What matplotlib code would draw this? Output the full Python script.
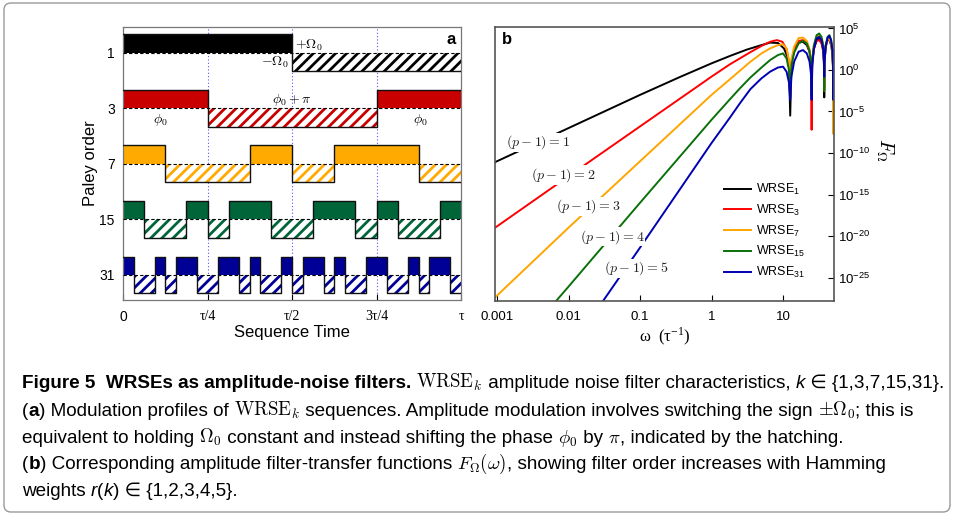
import numpy as np
import matplotlib
matplotlib.use('Agg')
import matplotlib.pyplot as plt
from matplotlib.patches import FancyBboxPatch
from matplotlib.transforms import IdentityTransform

W, H = 954, 516

plt.rcParams['font.family'] = ['Liberation Sans', 'DejaVu Sans']
plt.rcParams['mathtext.fontset'] = 'custom'
plt.rcParams['mathtext.rm'] = 'Liberation Sans'
plt.rcParams['mathtext.it'] = 'Liberation Sans:italic'
plt.rcParams['mathtext.bf'] = 'Liberation Sans:bold'
plt.rcParams['hatch.linewidth'] = 2.0
plt.rcParams['axes.unicode_minus'] = False

# ---- panel a : Walsh modulation profiles (Paley order) ----
paley_orders = [1, 3, 7, 15, 31]
walsh_1 = [1, -1]
walsh_3 = [1, -1, -1, 1]
walsh_7 = [1, -1, -1, 1, -1, 1, 1, -1]
walsh_15 = [1, -1, -1, 1, -1, 1, 1, -1, -1, 1, 1, -1, 1, -1, -1, 1]
walsh_31 = [1, -1, -1, 1, -1, 1, 1, -1, -1, 1, 1, -1, 1, -1, -1, 1,
            -1, 1, 1, -1, 1, -1, -1, 1, 1, -1, -1, 1, -1, 1, 1, -1]
profiles = [walsh_1, walsh_3, walsh_7, walsh_15, walsh_31]
colors_a = ['#000000', '#c80000', '#ffaa00', '#00663a', '#000096']
time_ticks = [0, 0.25, 0.5, 0.75, 1]
time_labels = ['0', 'τ/4', 'τ/2', '3τ/4', 'τ']

# ---- panel b : filter transfer functions ----
omega_1 = [0.00094, 0.01, 0.1, 0.36, 1, 1.82, 3.1, 5, 6.6, 8.5, 10.3, 11.5, 12.1, 12.6, 13.1, 14.3, 16.5, 19,
           21.5, 23.5, 24.6, 25.1, 25.6, 27, 29.5, 32, 34.5, 36.5, 37.3, 37.7, 38.1, 39.5, 42, 44.5, 47,
           49, 49.9, 50.3, 50.8, 51.6]
logF_1 = [-11.1, -7.0, -3.0, -0.85, 0.8, 1.7, 2.45, 3.0, 3.3, 3.25, 2.6, 1.6, 0.5, -5.5, 0.8, 2.3, 3.3, 3.4,
          3.0, 2.2, 1.0, -1.5, 1.0, 2.6, 3.6, 3.8, 3.4, 2.4, 1.2, -3.3, 1.2, 2.8, 3.7, 3.6, 3.0,
          2.0, 0.5, -2.0, 0.5, 2.0]
omega_3 = [0.00094, 0.01, 0.1, 1, 1.82, 3.5, 5, 6.6, 8.2, 9.8, 11.2, 12.1, 12.6, 13.1, 14.3, 16.5, 19,
           21.5, 23.5, 24.6, 25.1, 25.6, 27, 29.5, 32, 34.5, 36.5, 37.3, 37.7, 38.1, 39.5, 42, 44.5, 47,
           49, 49.9, 50.3, 50.8, 51.6]
logF_3 = [-19.0, -12.8, -6.8, -0.8, 0.7, 2.15, 2.9, 3.4, 3.6, 3.4, 2.5, 1.0, -2.5, 1.0, 2.5, 3.5, 3.6,
          3.2, 2.2, 0.5, -7.2, 0.8, 2.6, 3.5, 3.6, 3.2, 2.2, 1.0, -2.0, 1.2, 2.8, 3.7, 3.8, 3.3,
          2.2, 0.8, -2.0, 0.8, 2.2]
omega_7 = [0.00094, 0.01, 0.1, 1, 1.82, 3.5, 5, 6.6, 8.5, 10, 11.2, 12.1, 12.6, 13.1, 14.3, 16.5, 19,
           21.5, 23.5, 24.6, 25.1, 25.6, 27, 29.5, 32, 34.5, 36.5, 37.3, 37.7, 38.1, 39.5, 42, 44.5, 47,
           49, 49.9, 50.3, 50.8, 51.6]
logF_7 = [-27.4, -19.0, -11.0, -3.0, -1.1, 1.0, 2.0, 2.6, 3.0, 3.1, 2.6, 1.2, -3.0, 1.3, 2.8, 3.85, 3.9,
          3.5, 2.5, 1.0, -2.5, 1.2, 2.9, 4.0, 4.2, 3.8, 2.8, 1.2, -2.5, 1.2, 2.8, 3.7, 3.8, 3.2,
          2.0, 0.0, -7.7, 0.2, 1.8]
omega_15 = [0.0067, 0.01, 0.1, 1, 1.82, 2.5, 3.5, 5, 6.6, 8.5, 10, 11.2, 12.1, 12.6, 13.1, 14.3, 16.5, 19,
            21.5, 23.5, 24.6, 25.1, 25.6, 27, 29.5, 32, 34.5, 36.5, 37.3, 37.7, 38.1, 39.5, 42, 44.5, 47,
            49, 49.9, 50.3, 50.8, 51.6]
logF_15 = [-27.83, -26.1, -16.0, -6.0, -3.5, -2.2, -0.9, 0.3, 1.2, 1.8, 2.0, 1.4, 0.0, -3.2, 0.5, 2.1, 3.2,
           3.5, 3.2, 2.3, 0.8, -3.0, 1.2, 3.0, 4.2, 4.4, 4.0, 3.0, 1.5, -2.5, 1.5, 3.0, 4.0, 4.2, 3.6,
           2.4, 0.8, -2.5, 0.8, 2.4]
omega_31 = [0.0304, 0.1, 1, 1.82, 2.5, 3.5, 5, 6.6, 8.5, 10, 11.2, 12.1, 12.6, 13.1, 14.3, 16.5, 19,
            21.5, 23.5, 24.6, 25.1, 25.6, 27, 29.5, 32, 34.5, 36.5, 37.3, 37.7, 38.1, 39.5, 42, 44.5, 47,
            49, 49.9, 50.3, 50.8, 51.6]
logF_31 = [-27.83, -21.4, -8.8, -5.7, -4.0, -2.3, -1.0, -0.2, 0.3, 0.4, -0.2, -1.5, -3.6, -0.8, 1.0, 2.2,
           2.4, 2.0, 1.0, -0.5, -3.6, 0.5, 2.5, 3.8, 4.0, 3.6, 2.5, 0.8, -0.8, 1.0, 2.8, 3.9, 4.1, 3.6,
           2.4, 0.5, -3.6, 0.5, 2.4]
omegas = [omega_1, omega_3, omega_7, omega_15, omega_31]
logFs = [logF_1, logF_3, logF_7, logF_15, logF_31]
colors_b = ['#000000', '#ff0000', '#ffa500', '#0a700a', '#0000b4']
legend_labels = ['WRSE$_{1}$', 'WRSE$_{3}$', 'WRSE$_{7}$', 'WRSE$_{15}$', 'WRSE$_{31}$']
order_labels = ['$(p-1)=1$', '$(p-1)=2$', '$(p-1)=3$', '$(p-1)=4$', '$(p-1)=5$']
order_label_x = [0.0037, 0.0084, 0.0188, 0.0406, 0.088]
order_label_y = [2e-9, 2.2e-13, 4e-17, 8e-21, 1.3e-24]
omega_ticks = [0.001, 0.01, 0.1, 1, 10]
omega_tick_labels = ['0.001', '0.01', '0.1', '1', '10']
F_ticks = [1e5, 1e0, 1e-5, 1e-10, 1e-15, 1e-20, 1e-25]


def px_axes(x0, y0, x1, y1):
    return [x0 / W, 1 - y1 / H, (x1 - x0) / W, (y1 - y0) / H]


fig = plt.figure(figsize=(W / 100, H / 100), dpi=100)

# ================= panel a =================
ax1 = fig.add_axes(px_axes(123, 27, 461, 300))
h = 0.33
for row, (signs, col) in enumerate(zip(profiles, colors_a)):
    y0 = len(profiles) - 1 - row
    sgn = np.array(signs)
    n = len(sgn)
    edges = np.linspace(0, 1, n + 1)
    up = sgn > 0
    ax1.bar(edges[:-1][up], h, width=1 / n, bottom=y0, align='edge',
            color=col, linewidth=0, zorder=2)
    ax1.bar(edges[:-1][~up], -h, width=1 / n, bottom=y0, align='edge',
            facecolor='white', edgecolor=col, hatch='///', linewidth=0, zorder=2)
    ax1.hlines(y0, 0, 1, colors='k', linestyles=(0, (3, 2)), lw=0.8, zorder=3)
    ax1.step(edges, np.append(y0 + h * sgn, y0 + h * sgn[-1]), where='post',
             color='#111111', lw=1.0, zorder=3)

for xv in [0.25, 0.5, 0.75]:
    ax1.axvline(xv, color='#5555ff', lw=0.8, ls=(0, (1, 2)), zorder=1)

ax1.set_xlim(0, 1)
ax1.set_ylim(-0.45, 4.46)
ax1.set_xticks(time_ticks)
ax1.set_xticklabels(time_labels)
for lab in ax1.get_xticklabels()[1:]:
    lab.set_fontfamily('Liberation Serif')
ax1.set_yticks(range(len(paley_orders)))
ax1.set_yticklabels([str(p) for p in paley_orders[::-1]])
ax1.tick_params(axis='x', direction='in', length=4, pad=7, labelsize=10)
ax1.tick_params(axis='y', length=0, pad=6, labelsize=10)
ax1.set_xlabel('Sequence Time', fontsize=12, labelpad=1)
ax1.set_ylabel('Paley order', fontsize=12, labelpad=1)
for sp in ax1.spines.values():
    sp.set_color('#777777')
    sp.set_linewidth(0.9)

ax1.text(0.508, 4.13, r'$+\Omega_0$', math_fontfamily='cm', fontsize=10, ha='left', va='center')
ax1.text(0.492, 3.83, r'$-\Omega_0$', math_fontfamily='cm', fontsize=10, ha='right', va='center')
ax1.text(0.5, 3.14, r'$\phi_0+\pi$', math_fontfamily='cm', fontsize=10, ha='center', va='center')
ax1.text(0.11, 2.79, r'$\phi_0$', math_fontfamily='cm', fontsize=10, ha='center', va='center')
ax1.text(0.88, 2.79, r'$\phi_0$', math_fontfamily='cm', fontsize=10, ha='center', va='center')
ax1.text(0.985, 0.955, 'a', transform=ax1.transAxes, fontsize=12, fontweight='bold',
         ha='right', va='center')

# ================= panel b =================
ax2 = fig.add_axes(px_axes(495, 27, 834, 301))
for om, lf, col, lab in zip(omegas, logFs, colors_b, legend_labels):
    ax2.plot(om, np.power(10.0, lf), color=col, lw=1.4, label=lab)

ax2.set_xscale('log')
ax2.set_yscale('log')
ax2.set_xlim(0.000938, 51.6)
ax2.set_ylim(10 ** -27.83, 10 ** 5.18)
ax2.set_xticks(omega_ticks)
ax2.set_xticklabels(omega_tick_labels)
ax2.xaxis.set_minor_locator(matplotlib.ticker.NullLocator())
ax2.set_yticks(F_ticks)
ax2.yaxis.set_minor_locator(matplotlib.ticker.NullLocator())
ax2.yaxis.tick_right()
ax2.tick_params(axis='x', direction='in', length=4, pad=7, labelsize=9.5)
ax2.tick_params(axis='y', direction='in', length=4, pad=3, labelsize=9.5)
ax2.set_xlabel('ω  (τ$^{\\mathregular{-1}}$)', fontsize=12, family='Liberation Serif', labelpad=2)
for sp in ax2.spines.values():
    sp.set_color('#555555')
    sp.set_linewidth(1.2)

for s, xv, yv in zip(order_labels, order_label_x, order_label_y):
    ax2.text(xv, yv, s, math_fontfamily='cm', fontsize=10, ha='center', va='center',
             color='#222222', zorder=5,
             bbox=dict(fc='white', ec='none', pad=0.5))

leg = ax2.legend(loc='center left', bbox_to_anchor=(0.675, 0.255), frameon=False,
                 fontsize=9, handlelength=2.2, handletextpad=0.4, labelspacing=0.45,
                 borderpad=0, borderaxespad=0)
ax2.text(0.02, 0.955, 'b', transform=ax2.transAxes, fontsize=12, fontweight='bold',
         ha='left', va='center')

fig.text(885 / W, 1 - 150 / H, r'$F_\Omega$', math_fontfamily='cm', fontsize=14,
         rotation=270, ha='center', va='center')

# ================= caption =================
renderer = fig.canvas.get_renderer()
cap_family = ['Liberation Sans Narrow', 'Liberation Sans', 'DejaVu Sans']
N = dict(family=cap_family)
B = dict(family=cap_family, fontweight='bold')
I = dict(family=cap_family, style='italic')
M = dict(family=cap_family, math_fontfamily='cm')

caption = [
    (388, [('Figure 5  WRSEs as amplitude-noise filters.', B), (' ', N),
           (r'$\mathrm{WRSE}_k$', M), (' amplitude noise filter characteristics, ', N),
           ('k', I), (' ∈ {1,3,7,15,31}.', N)]),
    (416, [('(', N), ('a', B), (') Modulation profiles of ', N), (r'$\mathrm{WRSE}_k$', M),
           (' sequences. Amplitude modulation involves switching the sign ', N),
           (r'$\pm\Omega_0$', M), ('; this is', N)]),
    (443, [('equivalent to holding ', N), (r'$\mathbf{\Omega}_0$', M),
           (' constant and instead shifting the phase ', N), (r'$\phi_0$', M),
           (' by ', N), (r'$\pi$', M), (', indicated by the hatching.', N)]),
    (469, [('(', N), ('b', B), (') Corresponding amplitude filter-transfer functions ', N),
           (r'$F_\Omega(\omega)$', M), (', showing filter order increases with Hamming', N)]),
    (496, [('weights ', N), ('r', I), ('(', N), ('k', I), (') ∈ {1,2,3,4,5}.', N)]),
]


def text_width(s, fs, kw):
    t = fig.text(0, 0, '|' + s + '|', fontsize=fs, **kw)
    w = t.get_window_extent(renderer).width
    t.remove()
    t = fig.text(0, 0, '||', fontsize=fs, **kw)
    w -= t.get_window_extent(renderer).width
    t.remove()
    return w


w_first = sum(text_width(s, 10, kw) for s, kw in caption[0][1])
cap_fs = 10 * 926 / w_first

for y, pieces in caption:
    x = 22
    for s, kw in pieces:
        fig.text(x / W, 1 - y / H, s, fontsize=cap_fs, va='baseline', ha='left', **kw)
        x += text_width(s, cap_fs, kw)

border = FancyBboxPatch((4, H - 512), W - 8, 509, boxstyle='round,pad=0,rounding_size=7',
                        transform=IdentityTransform(), fc='none', ec='#9a9a9a', lw=1.0)
fig.patches.append(border)

fig.savefig('out.png', dpi=100)
